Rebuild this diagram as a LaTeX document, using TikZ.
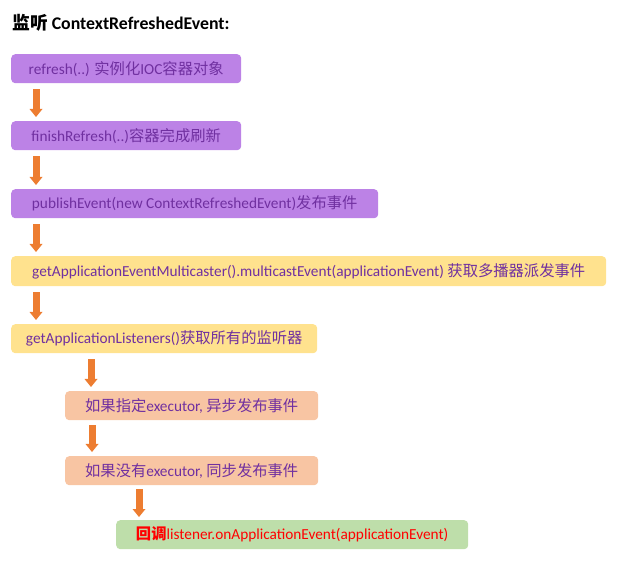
\documentclass[tikz,border=0pt]{standalone}
\usepackage{fontspec}
\setmainfont{Carlito}
\newfontfamily\cjk{Noto Sans CJK SC}
\newcommand{\zh}[1]{{\cjk #1}}
\definecolor{flowviolet}{RGB}{188,130,230}
\definecolor{flowyellow}{RGB}{255,226,142}
\definecolor{flowpeach}{RGB}{248,197,163}
\definecolor{flowgreen}{RGB}{190,222,170}
\definecolor{flowtext}{RGB}{112,48,160}
\definecolor{floworange}{RGB}{237,125,49}
\definecolor{flowred}{RGB}{255,0,0}
\usetikzlibrary{arrows.meta,calc}

\begin{document}
\begin{tikzpicture}[x=1pt, y=-1pt,
    stepbox/.style={rectangle, rounded corners=4pt, anchor=north west,
                    minimum height=29pt, inner sep=0pt, text=flowtext,
                    font=\fontsize{15.3}{18}\selectfont},
    violetbox/.style={stepbox, fill=flowviolet},
    yellowbox/.style={stepbox, fill=flowyellow},
    peachbox/.style={stepbox, fill=flowpeach},
    greenbox/.style={stepbox, fill=flowgreen, text=flowred},
    flow/.style={-{Triangle[width=13pt,length=8pt,line width=0pt]},
                 line width=7pt, floworange}
  ]
    \useasboundingbox (0,0) rectangle (622,564);

    % Title
    \node[anchor=west, inner sep=0pt, font=\fontsize{17.8}{21}\selectfont\bfseries]
      (title) at (12,23) {\zh{监听} ContextRefreshedEvent:};

    % Steps
    \node[violetbox, minimum width=230pt] (refresh) at (11,54)
      {refresh(..) \zh{实例化}IOC\zh{容器对象}};
    \node[violetbox, minimum width=230pt] (finish) at (11,121)
      {finishRefresh(..)\zh{容器完成刷新}};
    \node[violetbox, minimum width=367pt] (publish) at (11,189)
      {publishEvent(new ContextRefreshedEvent)\zh{发布事件}};
    \node[yellowbox, minimum width=595pt, minimum height=30pt] (multicast) at (11,256)
      {getApplicationEventMulticaster().multicastEvent(applicationEvent) \zh{获取多播器派发事件}};
    \node[yellowbox, minimum width=306pt] (listeners) at (11,324)
      {getApplicationListeners()\zh{获取所有的监听器}};
    \node[peachbox, minimum width=253pt] (async) at (65,391)
      {\zh{如果指定}executor, \zh{异步发布事件}};
    \node[peachbox, minimum width=253pt] (sync) at (65,456)
      {\zh{如果没有}executor, \zh{同步发布事件}};
    \node[greenbox, minimum width=352pt] (invoke) at (116,520)
      {\zh{\bfseries 回调}listener.onApplicationEvent(applicationEvent)};

    % Arrows between steps
    \draw[flow] ($(refresh.south west)+(25,6)$) -- ($(finish.north west)+(25,-4)$);
    \draw[flow] ($(finish.south west)+(25,6)$) -- ($(publish.north west)+(25,-4)$);
    \draw[flow] ($(publish.south west)+(25,6)$) -- ($(multicast.north west)+(25,-4)$);
    \draw[flow] ($(multicast.south west)+(25,6)$) -- ($(listeners.north west)+(25,-4)$);
    \draw[flow] ($(listeners.south west)+(80,6)$) -- ($(async.north west)+(26,-4)$);
    \draw[flow] ($(async.south west)+(27,5)$) -- ($(sync.north west)+(27,-4)$);
    \draw[flow] ($(sync.south west)+(74,4)$) -- ($(invoke.north west)+(23,-3)$);
  \end{tikzpicture}
\end{document}
